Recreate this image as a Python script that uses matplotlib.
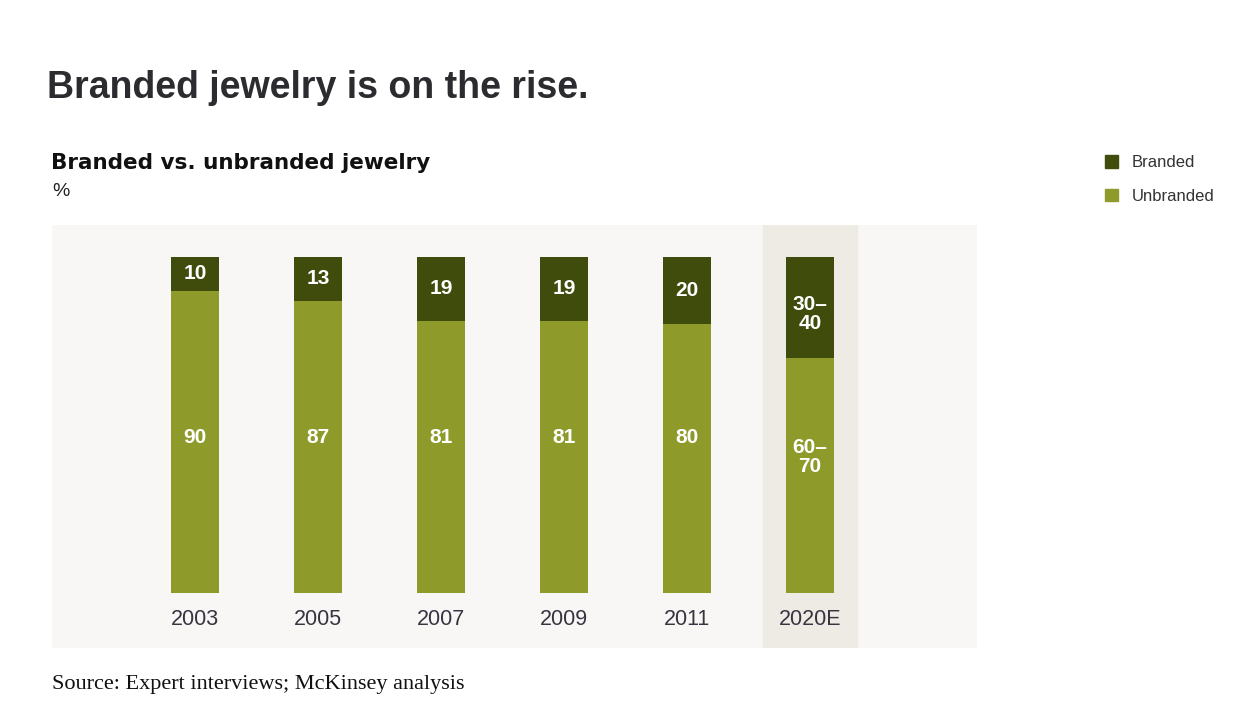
import numpy as np
import matplotlib.pyplot as plt
from matplotlib.patches import Patch

# data
years = ["2003", "2005", "2007", "2009", "2011", "2020E"]
branded = [10, 13, 19, 19, 20, 30]
unbranded = [90, 87, 81, 81, 80, 70]
branded_lbl = ["10", "13", "19", "19", "20", "30–\n40"]
unbranded_lbl = ["90", "87", "81", "81", "80", "60–\n70"]

c_brand = "#3f4c0c"
c_unbr = "#8e9b2a"

fig = plt.figure(figsize=(12.34, 7.07), dpi=100)
fig.patch.set_facecolor("white")

ax = fig.add_axes([52/1234, 1 - 648/707, 925/1234, 423/707])
ax.set_facecolor("#f8f7f6")

x = np.arange(len(years))
ax.axvspan(x[-1] - 0.382, x[-1] + 0.382, color="#edebe3", zorder=0)

ax.bar(x, unbranded, width=0.39, color=c_unbr, zorder=2)
ax.bar(x, branded, width=0.39, bottom=unbranded, color=c_brand, zorder=2)

lab = dict(ha="center", va="center", color="white", fontsize=15,
           fontweight="bold", family="Liberation Sans", linespacing=1.0, zorder=3)
for i in range(len(years)):
    two = "\n" in unbranded_lbl[i]
    ytop = unbranded[i] + branded[i] / 2
    ax.text(x[i], ytop - (2 if two else 0), branded_lbl[i], **lab)
    ax.text(x[i], 40.5 if two else 46.4, unbranded_lbl[i], **lab)
    ax.text(x[i], -8, years[i], ha="center", va="center", color="#3a3340",
            fontsize=15.5, family="Liberation Sans")

ax.set_xlim(-1.163, 6.358)
ax.set_ylim(-16.4, 109.5)
ax.set_xticks([])
ax.set_yticks([])
for s in ax.spines.values():
    s.set_visible(False)

fig.text(47/1234, 1 - 88/707, "Branded jewelry is on the rise.", fontsize=27,
         fontweight="bold", family="Liberation Sans", color="#2b2b30", va="center")
fig.text(51/1234, 1 - 163/707, "Branded vs. unbranded jewelry", fontsize=15.5,
         fontweight="bold", family="DejaVu Sans", color="#111111", va="center")
fig.text(52/1234, 1 - 191/707, "%", fontsize=14, family="Liberation Sans",
         color="#222222", va="center")
fig.text(52/1234, 1 - 684/707, "Source: Expert interviews; McKinsey analysis",
         fontsize=16, family="Liberation Serif", color="#111111", va="center")

handles = [Patch(color=c_brand), Patch(color=c_unbr)]
fig.legend(handles, ["Branded", "Unbranded"], loc="upper left",
           bbox_to_anchor=(1090/1234, 1 - 140/707), frameon=False,
           handlelength=0.8, handleheight=0.8, handletextpad=0.8,
           labelspacing=1.1, prop={"family": "Liberation Sans", "size": 12},
           labelcolor="#333333")

fig.savefig("out.png", dpi=100)
